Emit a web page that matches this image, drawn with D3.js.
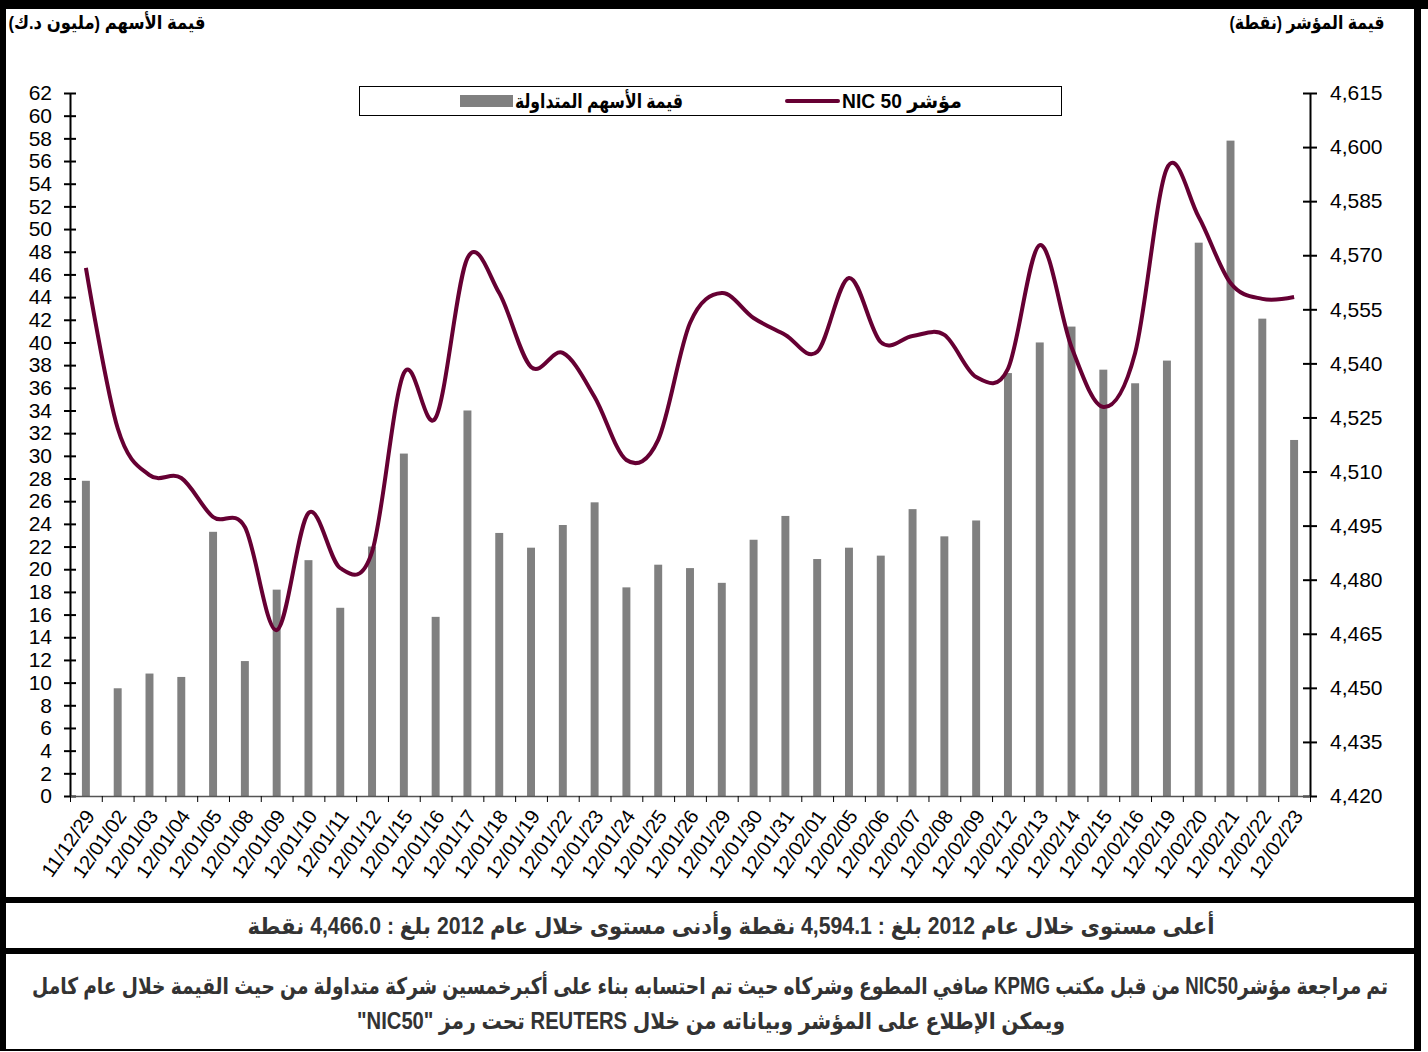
<!DOCTYPE html>
<html>
<head>
<meta charset="utf-8">
<script src="https://cdn.jsdelivr.net/npm/d3@7"></script>
<style>
    body { margin: 0; background: #fff; }
    svg text { font-family: "Liberation Sans", Arial, "DejaVu Sans", sans-serif; }
</style>
</head>
<body>
<div id="chart"></div>
<script>
// data
const dates = ["11/12/29","12/01/02","12/01/03","12/01/04","12/01/05","12/01/08","12/01/09","12/01/10","12/01/11","12/01/12",
    "12/01/15","12/01/16","12/01/17","12/01/18","12/01/19","12/01/22","12/01/23","12/01/24","12/01/25","12/01/26",
    "12/01/29","12/01/30","12/01/31","12/02/01","12/02/05","12/02/06","12/02/07","12/02/08","12/02/09","12/02/12",
    "12/02/13","12/02/14","12/02/15","12/02/16","12/02/19","12/02/20","12/02/21","12/02/22","12/02/23"];

// traded value (million KD)
const tradedValue = [27.8, 9.5, 10.8, 10.5, 23.3, 11.9, 18.2, 20.8, 16.6, 22.0,
    30.2, 15.8, 34.0, 23.2, 21.9, 23.9, 25.9, 18.4, 20.4, 20.1,
    18.8, 22.6, 24.7, 20.9, 21.9, 21.2, 25.3, 22.9, 24.3, 37.3,
    40.0, 41.4, 37.6, 36.4, 38.4, 48.8, 57.8, 42.1, 31.4];

// NIC 50 index (points)
const indexValue = [4566.5, 4522.0, 4509.0, 4508.2, 4497.4, 4494.6, 4466.0, 4498.5, 4483.2, 4487.7,
    4537.3, 4524.9, 4569.2, 4559.5, 4539.0, 4542.9, 4530.7, 4513.2, 4518.8, 4551.2,
    4559.5, 4552.6, 4547.9, 4543.2, 4563.7, 4545.9, 4547.6, 4547.9, 4536.2, 4538.5,
    4572.8, 4544.5, 4527.9, 4542.9, 4594.1, 4580.6, 4562.3, 4557.9, 4558.4];

const leftTicks = d3.range(0, 63, 2);
const rightTicks = d3.range(4420, 4616, 15);

const leftTitle = "قيمة الأسهم (مليون د.ك)";
const rightTitle = "قيمة المؤشر (نقطة)";
const legendLine = "مؤشر NIC 50";
const legendBar = "قيمة الأسهم المتداولة";
const summaryText = "أعلى مستوى خلال عام 2012 بلغ : 4,594.1 نقطة وأدنى مستوى خلال عام 2012 بلغ : 4,466.0 نقطة";
const noteLine1 = "تم مراجعة مؤشرNIC50 من قبل مكتب KPMG صافي المطوع وشركاه حيث تم احتسابه بناء على أكبرخمسين شركة متداولة من حيث القيمة خلال عام كامل";
const noteLine2 = "ويمكن الإطلاع على المؤشر وبياناته من خلال REUTERS تحت رمز \"NIC50\"";

const W = 1428, H = 1052;
const plot = {left: 70, right: 1310, top: 93, bottom: 796};
const maroon = "#660033", grey = "#808080";

let svg = d3.select("#chart").append("svg")
    .attr("width", W)
    .attr("height", H);

svg.append("rect").attr("width", W).attr("height", H).attr("fill", "#fff");

// frame
svg.append("rect").attr("x", 0).attr("y", 0).attr("width", W).attr("height", 9).attr("fill", "#000");
svg.append("rect").attr("x", 0).attr("y", 0).attr("width", 6).attr("height", 1051).attr("fill", "#000");
svg.append("rect").attr("x", 1414).attr("y", 0).attr("width", 7).attr("height", 1051).attr("fill", "#000");
svg.append("rect").attr("x", 0).attr("y", 897).attr("width", 1421).attr("height", 6).attr("fill", "#000");
svg.append("rect").attr("x", 0).attr("y", 948).attr("width", 1421).attr("height", 6).attr("fill", "#000");
svg.append("rect").attr("x", 0).attr("y", 1049).attr("width", 1421).attr("height", 2).attr("fill", "#000");

// scales
let x = d3.scaleBand()
    .domain(dates)
    .range([plot.left, plot.right])
    .paddingInner(0.75)
    .paddingOuter(0.375);

let xEdge = d3.scaleLinear()
    .domain([0, dates.length])
    .range([plot.left, plot.right]);

let yLeft = d3.scaleLinear().domain([0, 62]).range([plot.bottom, plot.top]);
let yRight = d3.scaleLinear().domain([4420, 4615]).range([plot.bottom, plot.top]);

// bars
svg.append("g").selectAll("rect")
    .data(dates)
    .enter()
    .append("rect")
    .attr("x", d => x(d))
    .attr("width", x.bandwidth())
    .attr("y", (d, i) => yLeft(tradedValue[i]))
    .attr("height", (d, i) => yLeft(0) - yLeft(tradedValue[i]))
    .attr("fill", grey);

// left axis
let leftAxis = svg.append("g")
    .attr("transform", `translate(${plot.left},0)`)
    .call(d3.axisLeft(yLeft).tickValues(leftTicks).tickSize(6).tickPadding(12).tickSizeOuter(0));
leftAxis.selectAll(".tick line").attr("x2", -6).attr("x1", 6).attr("stroke-width", 2);
leftAxis.selectAll("text").attr("font-size", 21).attr("fill", "#000");
leftAxis.select(".domain").attr("stroke-width", 2);

// right axis
let rightAxis = svg.append("g")
    .attr("transform", `translate(${plot.right},0)`)
    .call(d3.axisRight(yRight).tickValues(rightTicks).tickFormat(d3.format(",")).tickSize(7).tickPadding(13).tickSizeOuter(0));
rightAxis.selectAll(".tick line").attr("x1", -7).attr("x2", 7).attr("stroke-width", 2);
rightAxis.selectAll("text").attr("font-size", 21).attr("fill", "#000");
rightAxis.select(".domain").attr("stroke-width", 2);

// x axis: ticks on the category edges, labels on the centres
let edgeAxis = svg.append("g")
    .attr("transform", `translate(0,${plot.bottom})`)
    .call(d3.axisBottom(xEdge).tickValues(d3.range(dates.length + 1)).tickFormat("").tickSize(6).tickSizeOuter(0));
edgeAxis.select(".domain").attr("stroke", "#555").attr("stroke-width", 1.5);

let labelAxis = svg.append("g")
    .attr("transform", `translate(0,${plot.bottom})`)
    .call(d3.axisBottom(x).tickSize(0).tickSizeOuter(0));
labelAxis.select(".domain").remove();
labelAxis.selectAll("text")
    .attr("font-size", 20)
    .attr("fill", "#000")
    .attr("text-anchor", "end")
    .attr("x", 0).attr("y", 0).attr("dy", "0.35em")
    .attr("transform", "translate(4,16) rotate(-55)");

// index line
let line = d3.line()
    .x(d => x(d) + x.bandwidth() / 2)
    .y((d, i) => yRight(indexValue[i]))
    .curve(d3.curveCardinal.tension(0));

svg.append("path")
    .datum(dates)
    .attr("fill", "none")
    .attr("stroke", maroon)
    .attr("stroke-width", 4)
    .attr("stroke-linejoin", "round")
    .attr("d", line);

// rtl text squeezed to the width it has in the picture
function label(txt, cx, cy, size, len, fill) {
    return svg.append("text")
        .attr("x", cx).attr("y", cy)
        .attr("text-anchor", "middle").attr("direction", "rtl")
        .attr("font-size", size).attr("font-weight", "bold")
        .attr("fill", fill || "#000")
        .attr("textLength", len).attr("lengthAdjust", "spacingAndGlyphs")
        .text(txt);
}

// legend
svg.append("rect")
    .attr("x", 359.5).attr("y", 86.5).attr("width", 702).attr("height", 29)
    .attr("fill", "#fff").attr("stroke", "#000").attr("stroke-width", 1);
svg.append("line")
    .attr("x1", 787).attr("x2", 838).attr("y1", 101).attr("y2", 101)
    .attr("stroke", maroon).attr("stroke-width", 4).attr("stroke-linecap", "round");
label(legendLine, 902, 108, 20, 120);
svg.append("rect")
    .attr("x", 460).attr("y", 95).attr("width", 53).attr("height", 12)
    .attr("fill", grey);
label(legendBar, 599, 108, 20, 168);

// axis titles
label(leftTitle, 107, 29, 19, 197);
label(rightTitle, 1307, 29, 19, 155);

// footer texts
label(summaryText, 731, 934, 23, 967, "#333");
label(noteLine1, 710, 994, 23, 1356, "#333");
label(noteLine2, 711, 1029, 23, 708, "#333");
</script>
</body>
</html>
